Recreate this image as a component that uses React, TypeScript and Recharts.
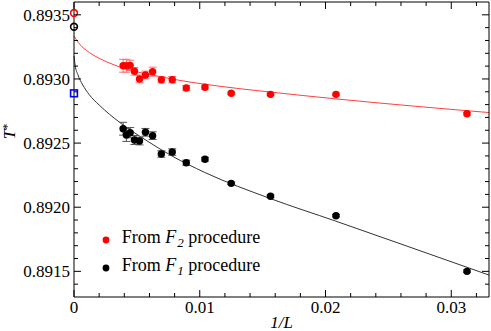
import React from 'react';
import { ComposedChart, Scatter, Line, XAxis, YAxis, ErrorBar, Legend } from 'recharts';

// lattice sizes L, x axis is 1/L
const sizesL = [256, 240, 224, 208, 192, 176, 160, 144, 128, 112, 96, 80, 64, 48, 32];

// T* from the F2 procedure (red) and the F1 procedure (black)
const tF2 = [0.893103, 0.893103, 0.893106, 0.89306, 0.893, 0.893031, 0.893057, 0.892994, 0.892994, 0.892929, 0.892935, 0.892888, 0.89288, 0.89288, 0.892729];
const errF2 = [0.00005, 0.00005, 0.00004, 0.00003, 0.00003, 0.00003, 0.000035, 0.000025, 0.000025, 0.00002, 0.000015, 0.00001, 0.00001, 0.00001, 0.00001];
const tF1 = [0.892612, 0.892563, 0.892581, 0.892524, 0.892516, 0.892584, 0.892558, 0.892415, 0.89243, 0.892347, 0.892374, 0.892186, 0.892085, 0.891934, 0.8915];
const errF1 = [0.00005, 0.00005, 0.00004, 0.000035, 0.00003, 0.00003, 0.00003, 0.000025, 0.000025, 0.00002, 0.000015, 0.00001, 0.00001, 0.00001, 0.00001];

// fit curves
const fitF2X = [0, 0.0002, 0.0005, 0.001, 0.002, 0.0031, 0.0072, 0.0116, 0.0156, 0.0208, 0.033];
const fitF2Y = [0.893335, 0.893304, 0.893265, 0.893222, 0.893161, 0.893113, 0.893011, 0.892943, 0.892898, 0.892845, 0.892738];
const fitF1X = [0, 0.0001, 0.0003, 0.0007, 0.0012, 0.002, 0.0036, 0.0057, 0.0078, 0.0104, 0.0156, 0.0208, 0.026, 0.033];
const fitF1Y = [0.893179, 0.893101, 0.893035, 0.892953, 0.892879, 0.892797, 0.892664, 0.892524, 0.892399, 0.892271, 0.892068, 0.891892, 0.891713, 0.891471];

// extrapolated values at 1/L = 0
const extF2 = 0.893514;
const extF1 = 0.893407;
const extBlue = 0.892888;

const xTicks = [0, 0.002, 0.004, 0.006, 0.008, 0.01, 0.012, 0.014, 0.016, 0.018, 0.02, 0.022, 0.024, 0.026, 0.028, 0.03, 0.032];
const xLabels: Record<string, string> = { '0': '0', '0.01': '0.01', '0.02': '0.02', '0.03': '0.03' };
const yTicks = [0.8914, 0.8915, 0.8916, 0.8917, 0.8918, 0.8919, 0.892, 0.8921, 0.8922, 0.8923, 0.8924, 0.8925, 0.8926, 0.8927, 0.8928, 0.8929, 0.893, 0.8931, 0.8932, 0.8933, 0.8934, 0.8935];
const yLabels: Record<string, string> = { '0.8915': '0.8915', '0.892': '0.8920', '0.8925': '0.8925', '0.893': '0.8930', '0.8935': '0.8935' };

const font = '"Liberation Serif", "Times New Roman", serif';
const RED = '#ff0000';

const f2Data = sizesL.map((L, i) => ({ x: 1 / L, y: tF2[i], err: errF2[i] }));
const f1Data = sizesL.map((L, i) => ({ x: 1 / L, y: tF1[i], err: errF1[i] }));
const fitF2 = fitF2X.map((x, i) => ({ x, y: fitF2Y[i] }));
const fitF1 = fitF1X.map((x, i) => ({ x, y: fitF1Y[i] }));

const MAJOR = 7;
const MINOR = 4;

const LeftTick = (props: any) => {
  const { x, y, payload } = props;
  const label = yLabels[String(payload.value)];
  const ax = x + 4;
  return (
    <g>
      <line x1={ax} x2={ax + (label ? MAJOR : MINOR)} y1={y} y2={y} stroke="#000" />
      {label && (
        <text x={x} y={y} dy="0.35em" textAnchor="end" fontSize={17} fontFamily={font} fill="#000">
          {label}
        </text>
      )}
    </g>
  );
};

const RightTick = (props: any) => {
  const { x, y, payload } = props;
  const len = yLabels[String(payload.value)] ? MAJOR : MINOR;
  return <line x1={x} x2={x - len} y1={y} y2={y} stroke="#000" />;
};

const BottomTick = (props: any) => {
  const { x, y, payload } = props;
  const label = xLabels[String(payload.value)];
  const ay = y - 4;
  return (
    <g>
      <line x1={x} x2={x} y1={ay} y2={ay - (label ? MAJOR : MINOR)} stroke="#000" />
      {label && (
        <text x={x} y={y} dy="0.71em" textAnchor="middle" fontSize={17} fontFamily={font} fill="#000">
          {label}
        </text>
      )}
    </g>
  );
};

const TopTick = (props: any) => {
  const { x, y, payload } = props;
  const len = xLabels[String(payload.value)] ? MAJOR : MINOR;
  return <line x1={x} x2={x} y1={y} y2={y + len} stroke="#000" />;
};

const YTitle = (props: any) => {
  const vb = props.viewBox;
  return (
    <text transform={`translate(${vb.x + 15}, ${vb.y + vb.height / 2 - 18}) rotate(-90)`} textAnchor="middle" fontSize={17} fontFamily={font} fill="#000">
      <tspan fontStyle="italic">T</tspan>
      <tspan dy={-4} fontSize={12}>*</tspan>
    </text>
  );
};

const XTitle = (props: any) => {
  const vb = props.viewBox;
  return (
    <text x={vb.x + vb.width / 2} y={vb.y + 31} textAnchor="middle" fontSize={17} fontFamily={font} fontStyle="italic" fill="#000">
      1/L
    </text>
  );
};

const dot = (color: string) => (p: any) => <circle cx={p.cx} cy={p.cy} r={3.7} fill={color} />;
const ring = (color: string) => (p: any) => <circle cx={p.cx} cy={p.cy} r={3.4} fill="none" stroke={color} strokeWidth={1.6} />;
const square = (p: any) => <rect x={p.cx - 3.4} y={p.cy - 3.4} width={6.8} height={6.8} fill="none" stroke="#0000ff" strokeWidth={1.6} />;

const legendRows = [
  { color: RED, sub: '2' },
  { color: '#000', sub: '1' },
];

const LegendBox = () => (
  <div style={{ fontFamily: font, fontSize: 18, color: '#000' }}>
    {legendRows.map((r) => (
      <div key={r.sub} style={{ display: 'flex', alignItems: 'center', height: 27.4, whiteSpace: 'nowrap' }}>
        <svg width={12} height={12} style={{ marginRight: 10 }}>
          <circle cx={6} cy={6} r={3.4} fill={r.color} />
        </svg>
        <span style={{ position: 'relative', top: -2, lineHeight: '18px' }}>
          From <i>F</i>
          <i style={{ fontSize: 13, position: 'relative', top: 4, marginLeft: 1 }}>{r.sub}</i> procedure
        </span>
      </div>
    ))}
  </div>
);

export default function App() {
  return (
    <div style={{ position: 'absolute', left: 0, top: 0, width: 491, height: 331, background: '#fff' }}>
      <ComposedChart width={491} height={331} margin={{ top: 1, right: 1, bottom: 0, left: 0 }}>
        <XAxis
          dataKey="x"
          type="number"
          domain={[0, 0.033]}
          ticks={xTicks}
          interval={0}
          height={34}
          tickSize={0}
          tickMargin={4}
          tickLine={false}
          tick={BottomTick}
          axisLine={{ stroke: '#000' }}
          label={XTitle}
        />
        <XAxis
          xAxisId="top"
          dataKey="x"
          orientation="top"
          type="number"
          domain={[0, 0.033]}
          ticks={xTicks}
          interval={0}
          height={1}
          tickSize={0}
          tickMargin={0}
          tickLine={false}
          tick={TopTick}
          axisLine={{ stroke: '#000' }}
        />
        <YAxis
          dataKey="y"
          type="number"
          domain={[0.8913, 0.8936]}
          ticks={yTicks}
          interval={0}
          width={74}
          tickSize={0}
          tickMargin={4}
          tickLine={false}
          tick={LeftTick}
          axisLine={{ stroke: '#000' }}
          label={YTitle}
        />
        <YAxis
          yAxisId="right"
          dataKey="y"
          orientation="right"
          type="number"
          domain={[0.8913, 0.8936]}
          ticks={yTicks}
          interval={0}
          width={1}
          tickSize={0}
          tickMargin={0}
          tickLine={false}
          tick={RightTick}
          axisLine={{ stroke: '#000' }}
        />
        <Line data={fitF2} dataKey="y" type="monotone" dot={false} activeDot={false} stroke="#ff4040" strokeWidth={1} isAnimationActive={false} legendType="none" />
        <Line data={fitF1} dataKey="y" type="monotone" dot={false} activeDot={false} stroke="#333" strokeWidth={1} isAnimationActive={false} legendType="none" />
        <Scatter data={f2Data} dataKey="y" shape={dot(RED)} isAnimationActive={false}>
          <ErrorBar dataKey="err" direction="y" width={4} stroke="#ff7070" strokeWidth={1} />
        </Scatter>
        <Scatter data={f1Data} dataKey="y" shape={dot('#000')} isAnimationActive={false}>
          <ErrorBar dataKey="err" direction="y" width={4} stroke="#555" strokeWidth={1} />
        </Scatter>
        <Scatter data={[{ x: 0, y: extF2 }]} dataKey="y" shape={ring(RED)} isAnimationActive={false} legendType="none" />
        <Scatter data={[{ x: 0, y: extF1 }]} dataKey="y" shape={ring('#000')} isAnimationActive={false} legendType="none" />
        <Scatter xAxisId="top" yAxisId="right" data={[{ x: 0, y: extBlue }]} dataKey="y" shape={square} isAnimationActive={false} legendType="none" />
        <Legend
          layout="vertical"
          align="center"
          verticalAlign="middle"
          wrapperStyle={{ left: 99.7, top: 226.6, width: 'auto' }}
          content={() => <LegendBox />}
        />
      </ComposedChart>
    </div>
  );
}
